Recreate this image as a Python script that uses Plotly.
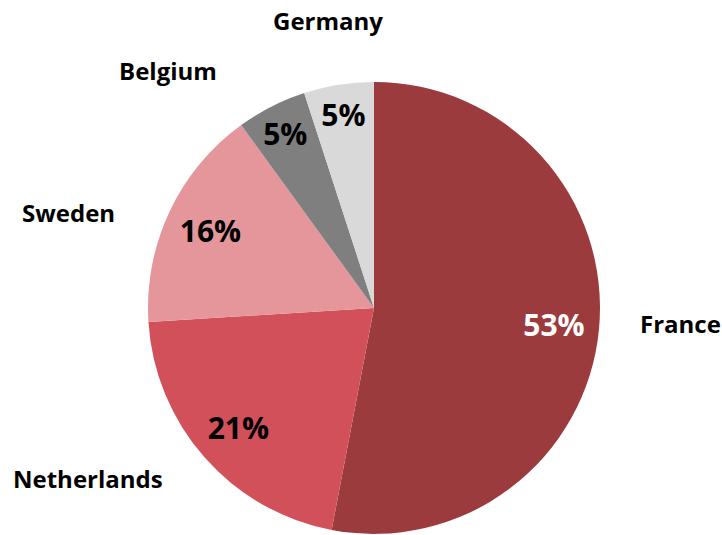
import plotly.graph_objects as go

countries = ["France", "Netherlands", "Sweden", "Belgium", "Germany"]
shares = [53, 21, 16, 5, 5]
colors = ["#9B3B3E", "#D2505A", "#E4969B", "#7F7F7F", "#D9D9D9"]
text_colors = ["white", "black", "black", "black", "black"]

FONT = "Open Sans"

# label anchor positions (paper coords) and anchors
label_pos = [
    (0.8837, 0.396, "left", "middle"),
    (0.2285, 0.106, "right", "middle"),
    (0.162, 0.603, "right", "middle"),
    (0.3033, 0.869, "right", "middle"),
    (0.4543, 0.962, "center", "middle"),
]

domain = dict(x=[0.205, 0.831], y=[0.002, 0.847])

fig = go.Figure()
fig.add_trace(go.Pie(
    labels=countries,
    values=shares,
    sort=False,
    direction="clockwise",
    rotation=0,
    marker=dict(colors=colors, line=dict(width=0)),
    textinfo="none",
    domain=domain,
    showlegend=False,
    hoverinfo="label+percent",
))
# transparent ring overlay carrying the percentage labels near the rim
fig.add_trace(go.Pie(
    labels=countries,
    values=shares,
    sort=False,
    direction="clockwise",
    rotation=0,
    hole=0.6,
    marker=dict(colors=["rgba(0,0,0,0)"] * len(countries), line=dict(width=0)),
    texttemplate="%{percent:.0%}",
    textposition="inside",
    insidetextorientation="horizontal",
    textfont=dict(family=FONT, size=30, color=text_colors, weight="bold"),
    domain=domain,
    showlegend=False,
    hoverinfo="skip",
))

for name, (x, y, xa, ya) in zip(countries, label_pos):
    fig.add_annotation(x=x, y=y, xref="paper", yref="paper", text="<b>%s</b>" % name,
                       showarrow=False, xanchor=xa, yanchor=ya,
                       font=dict(family=FONT, size=24, color="black"))

fig.update_layout(
    width=722, height=535,
    margin=dict(l=0, r=0, t=0, b=0),
    paper_bgcolor="white", plot_bgcolor="white",
    uniformtext=dict(minsize=30, mode="show"),
)

fig.write_html("out.html", config={"displayModeBar": False},
               post_script="document.body.style.margin='0';document.body.style.overflow='hidden';")
